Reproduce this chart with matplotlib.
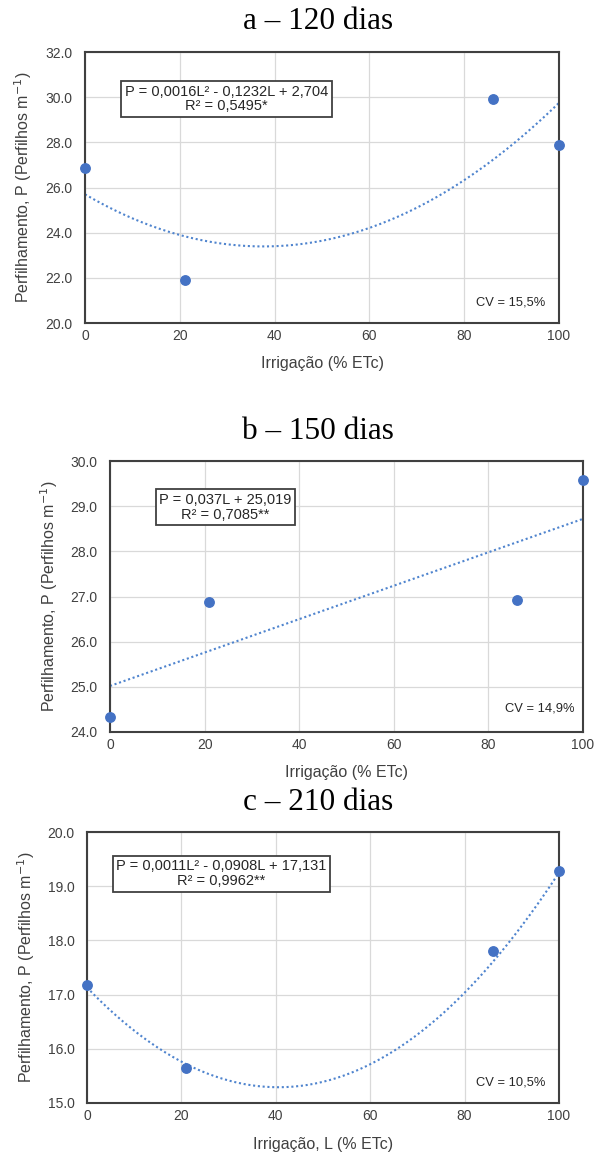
import matplotlib.pyplot as plt
import numpy as np

# irrigation levels (% ETc)
irrig = [0, 21, 86, 100]

# tillering (perfilhos m-1) at each date
p_120 = [26.85, 21.9, 29.9, 27.9]
p_150 = [24.33, 26.88, 26.93, 29.57]
p_210 = [17.17, 15.65, 17.8, 19.28]

# trendline coefficients (highest power first), as drawn
trend_120 = [0.001633, -0.1228, 25.70]
trend_150 = [0.037, 25.019]
trend_210 = [0.00112, -0.0908, 17.131]

titles = ["a \u2013 120 dias", "b \u2013 150 dias", "c \u2013 210 dias"]
equations = ["P = 0,0016L\u00b2 - 0,1232L + 2,704\nR\u00b2 = 0,5495*",
             "P = 0,037L + 25,019\nR\u00b2 = 0,7085**",
             "P = 0,0011L\u00b2 - 0,0908L + 17,131\nR\u00b2 = 0,9962**"]
cv_labels = ["CV = 15,5%", "CV = 14,9%", "CV = 10,5%"]
xlabels = ["Irriga\u00e7\u00e3o (% ETc)", "Irriga\u00e7\u00e3o (% ETc)", "Irriga\u00e7\u00e3o, L (% ETc)"]
ylims = [(20, 32), (24, 30), (15, 20)]
ysteps = [2.0, 1.0, 1.0]

blue = "#4472C4"
txt = "#404040"
sans = ["Liberation Sans", "DejaVu Sans"]

fig = plt.figure(figsize=(5.94, 11.54), dpi=100)

# axes boxes [left, bottom, width, height]
boxes = [[0.1431, 0.7201, 0.798, 0.2348],
         [0.1852, 0.3657, 0.7963, 0.2348],
         [0.1465, 0.0442, 0.7946, 0.2348]]
title_y = [0.981, 0.6257, 0.3042]
eq_pos = [(0.298, 0.827), (0.244, 0.829), (0.285, 0.846)]
cv_pos = [(0.970, 0.077), (0.981, 0.085), (0.972, 0.074)]
ylab_x = [-0.131, -0.129, -0.129]
xlab_y = [-0.148, -0.148, -0.155]

data = [p_120, p_150, p_210]
trends = [trend_120, trend_150, trend_210]

for i in range(3):
    ax = fig.add_axes(boxes[i])
    lx = np.linspace(0, 100, 200)
    ax.plot(lx, np.polyval(trends[i], lx), linestyle=(0, (1, 1.3)),
            color="#4F84CE", linewidth=1.5, zorder=2)
    ax.plot(irrig, data[i], "o", color=blue, markersize=6.8, clip_on=False, zorder=3)

    ax.set_xlim(0, 100)
    ax.set_ylim(*ylims[i])
    ax.set_xticks(range(0, 101, 20))
    lo, hi = ylims[i]
    yt = np.arange(lo, hi + 0.01, ysteps[i])
    ax.set_yticks(yt)
    ax.set_yticklabels(["%.1f" % v for v in yt])
    ax.grid(True, color="#D9D9D9", linewidth=0.9)
    ax.set_axisbelow(True)
    for s in ax.spines.values():
        s.set_color("#404040")
        s.set_linewidth(1.5)
    ax.tick_params(length=0, labelsize=10, colors=txt)
    ax.tick_params(axis="y", pad=9)
    ax.tick_params(axis="x", pad=4)
    for lab in ax.get_xticklabels() + ax.get_yticklabels():
        lab.set_family(sans)

    ax.set_xlabel(xlabels[i], fontsize=11.5, color=txt, family=sans, va="center")
    ax.xaxis.set_label_coords(0.5, xlab_y[i])
    ax.set_ylabel("Perfilhamento, P (Perfilhos m$^{-1}$)", fontsize=11.5, color=txt,
                  family=sans, va="center")
    ax.yaxis.set_label_coords(ylab_x[i], 0.5)

    ax.text(eq_pos[i][0], eq_pos[i][1], equations[i], transform=ax.transAxes,
            ha="center", va="center", fontsize=10.5, color="#262626", family=sans,
            linespacing=1.05,
            bbox=dict(boxstyle="square,pad=0.25", fc="white", ec="#404040", lw=1.3))
    ax.text(cv_pos[i][0], cv_pos[i][1], cv_labels[i], transform=ax.transAxes,
            ha="right", va="center", fontsize=9.3, color="#262626", family=sans)

    fig.text(0.536, title_y[i], titles[i], ha="center", va="center",
             fontsize=22.5, family="Liberation Serif")

fig.savefig("out.png", dpi=100)
